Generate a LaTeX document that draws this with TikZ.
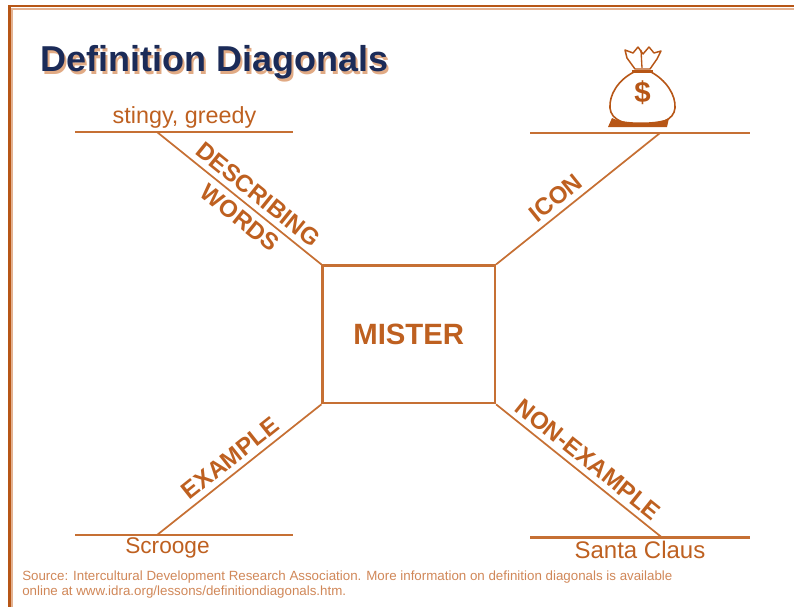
\documentclass[tikz,border=0pt]{standalone}
\usepackage{fontspec}
\setmainfont{Liberation Sans}
\definecolor{rust}{RGB}{183,86,22}
\definecolor{lightrule}{RGB}{228,178,145}
\definecolor{lineor}{RGB}{198,112,52}
\definecolor{txtor}{RGB}{190,96,32}
\definecolor{navy}{RGB}{27,43,88}
\definecolor{shadowor}{RGB}{225,170,132}
\definecolor{footor}{RGB}{208,135,88}
\begin{document}
\begin{tikzpicture}[x=0.75pt,y=-0.75pt,
  hrule/.style={draw=lineor,line width=1.8pt},
  diag/.style={draw=lineor,line width=1.3pt},
  lbl/.style={text=txtor,font=\fontsize{18}{20}\selectfont\bfseries,inner sep=4pt,sloped},
  word/.style={text=txtor,inner sep=0pt,anchor=base},
]
\useasboundingbox (0,0) rectangle (794,607);
% frame
\draw[draw=lightrule,line width=1.5pt] (11,8.5) -- (794,8.5);
\draw[draw=lightrule,line width=1.5pt] (11.5,8) -- (11.5,607);
\draw[draw=rust,line width=1.6pt] (8,6) -- (794,6);
\draw[draw=rust,line width=1.6pt] (9.5,6) -- (9.5,607);
% title
\node[anchor=base west,inner sep=0pt,text=shadowor,font=\fontsize{27}{30}\selectfont\bfseries] (titleshadow) at (42,74) {Definition Diagonals};
\node[anchor=base west,inner sep=0pt,text=navy,font=\fontsize{27}{30}\selectfont\bfseries] (title) at (40,71) {Definition Diagonals};
% center box
\node[draw=lineor,line width=1.6pt,minimum width=129.4pt,minimum height=103.3pt,inner sep=0pt,
      text=txtor,font=\fontsize{22}{24}\selectfont\bfseries] (box) at (408.75,334.4) {MISTER};
% horizontal rules
\coordinate (tlA) at (75,132);   \coordinate (tlB) at (293,132);  \coordinate (tlP) at (157,132);
\coordinate (trA) at (530,133);  \coordinate (trB) at (750,133);  \coordinate (trP) at (660,133);
\coordinate (blA) at (75,535);   \coordinate (blB) at (293,535);  \coordinate (blP) at (157,535);
\coordinate (brA) at (530,537.5);\coordinate (brB) at (750,537.5);\coordinate (brP) at (662,537.5);
\draw[hrule] (tlA) -- (tlB);
\draw[hrule] (trA) -- (trB);
\draw[hrule] (blA) -- (blB);
\draw[hrule] (brA) -- (brB);
% diagonals
\draw[diag] (tlP) -- node[lbl,above,pos=0.56] (lblDesc) {DESCRIBING} node[lbl,below,pos=0.56] (lblWords) {WORDS} (box.north west);
\draw[diag] (box.north east) -- node[lbl,above,pos=0.42] (lblIcon) {ICON} (trP);
\draw[diag] (blP) -- node[lbl,above,pos=0.5] (lblEx) {EXAMPLE} (box.south west);
\draw[diag] (box.south east) -- node[lbl,above,pos=0.5] (lblNon) {NON-EXAMPLE} (brP);
% words
\node[word,font=\fontsize{17.5}{20}\selectfont] (stingy) at (184.5,123) {stingy, greedy};
\node[word,font=\fontsize{17}{20}\selectfont] (scrooge) at (167.5,553) {Scrooge};
\node[word,font=\fontsize{18}{20}\selectfont] (santa) at (640,558) {Santa Claus};
% money bag icon
\filldraw[draw=rust,fill=white,line width=1.2pt]
  (634,72) .. controls (618,80) and (609,95) .. (610,108)
  .. controls (611,120) and (625,125) .. (642,125)
  .. controls (660,125) and (674,120) .. (675,108)
  .. controls (676,95) and (666,80) .. (651,72) -- cycle;
\filldraw[draw=rust,fill=white,line width=1.1pt,line join=round]
  (635,69) -- (627,58) -- (625,50) -- (633,53) -- (638,47) -- (643,54) -- (649,47) -- (654,53) -- (661,51) -- (657,59) -- (650,69) -- cycle;
\draw[rust,line width=1pt] (641,50) -- (642,68);
\draw[rust,line width=2pt] (632,71) -- (653,71);
\fill[rust] (608,127) -- (612,118) .. controls (622,124) and (660,124) .. (669,118) -- (667,127) -- cycle;
\node[text=rust,font=\fontsize{22}{24}\selectfont\bfseries,inner sep=0pt] (dollar) at (642.5,93) {\$};
% footer
\node[anchor=base west,inner sep=0pt,text=footor,align=left,font=\fontsize{10}{11.25}\selectfont] (source) at (22,595)
  {Source: Intercultural Development Research Association. More information on definition diagonals is available\\online at www.idra.org/lessons/definitiondiagonals.htm.};
\end{tikzpicture}
\end{document}
